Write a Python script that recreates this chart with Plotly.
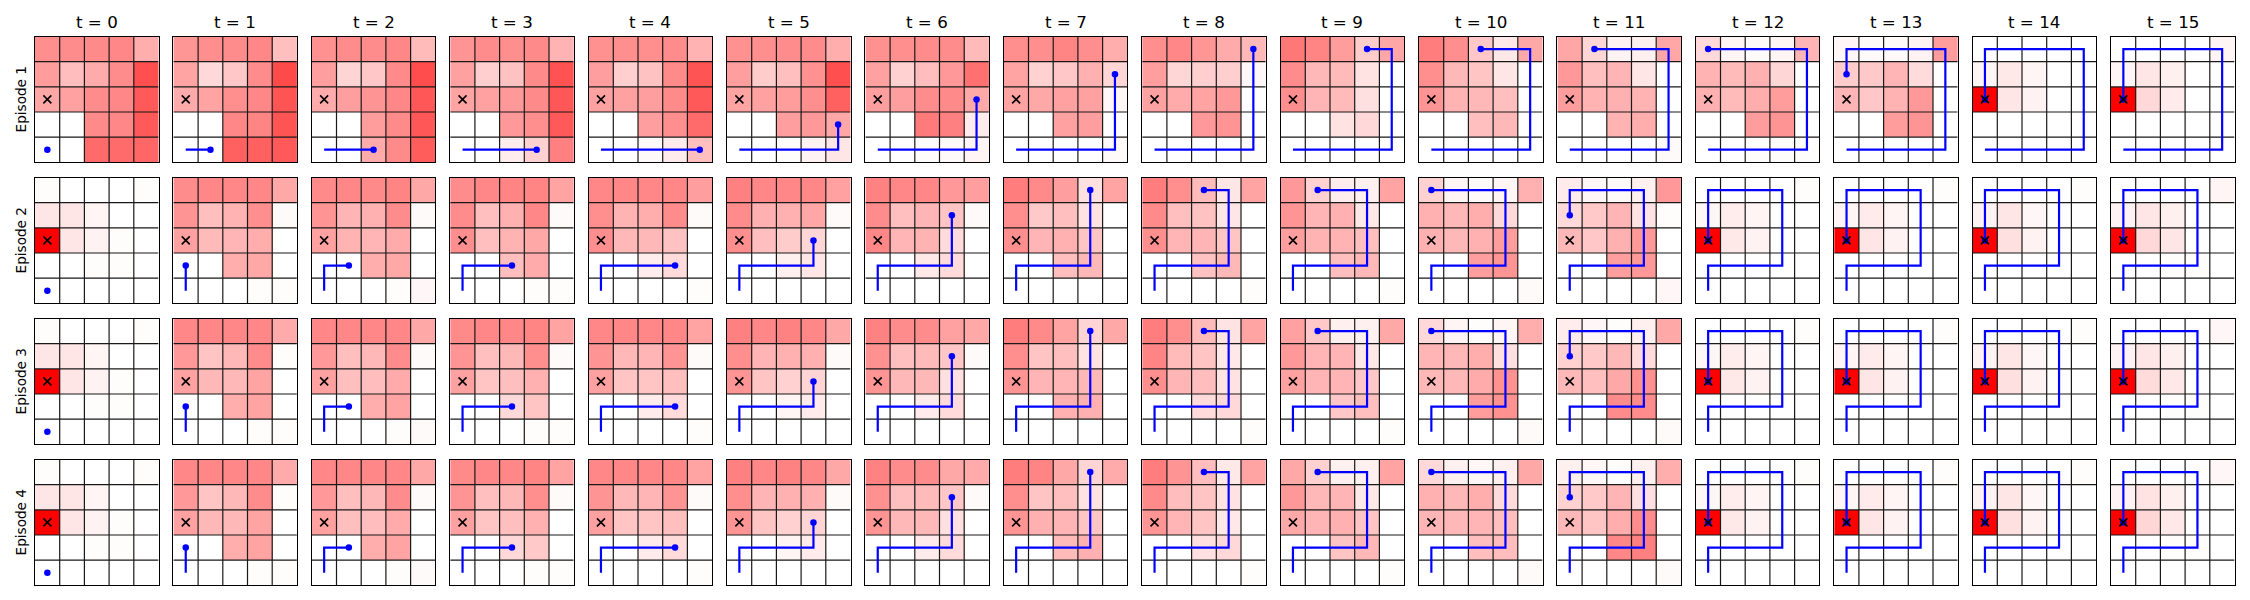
import plotly.graph_objects as go

# ---------------- data ----------------
time_labels = ["t = 0", "t = 1", "t = 2", "t = 3", "t = 4", "t = 5", "t = 6", "t = 7",
               "t = 8", "t = 9", "t = 10", "t = 11", "t = 12", "t = 13", "t = 14", "t = 15"]
episode_labels = ["Episode 1", "Episode 2", "Episode 3", "Episode 4"]

goal_col = 0
goal_row = 2

# agent positions (col, row) visited in each episode
ep1_path_cols = [0, 1, 2, 3, 4, 4, 4, 4, 4, 3, 2, 1, 0, 0, 0]
ep1_path_rows = [4, 4, 4, 4, 4, 3, 2, 1, 0, 0, 0, 0, 0, 1, 2]
ep2_path_cols = [0, 0, 1, 2, 3, 3, 3, 3, 2, 1, 0, 0, 0]
ep2_path_rows = [4, 3, 3, 3, 3, 2, 1, 0, 0, 0, 0, 1, 2]
ep3_path_cols = [0, 0, 1, 2, 3, 3, 3, 3, 2, 1, 0, 0, 0]
ep3_path_rows = [4, 3, 3, 3, 3, 2, 1, 0, 0, 0, 0, 1, 2]
ep4_path_cols = [0, 0, 1, 2, 3, 3, 3, 3, 2, 1, 0, 0, 0]
ep4_path_rows = [4, 3, 3, 3, 3, 2, 1, 0, 0, 0, 0, 1, 2]

# heat intensity per cell (percent), one 5x5 grid per time step
ep1_heat = [
    [[44, 45, 46, 47, 32], [39, 26, 33, 45, 69], [35, 37, 45, 47, 65], [0, 0, 46, 47, 65], [0, 0, 58, 58, 60]],
    [[41, 44, 45, 47, 25], [36, 15, 22, 45, 71], [33, 36, 44, 47, 67], [0, 0, 47, 48, 67], [0, 0, 62, 62, 65]],
    [[43, 45, 45, 47, 27], [38, 17, 22, 46, 70], [33, 38, 42, 47, 66], [0, 0, 39, 46, 66], [0, 0, 33, 46, 64]],
    [[42, 45, 44, 46, 30], [37, 19, 24, 46, 68], [36, 37, 40, 46, 66], [0, 0, 40, 44, 65], [0, 0, 7, 18, 50]],
    [[43, 44, 44, 45, 30], [38, 19, 24, 46, 67], [37, 37, 38, 46, 65], [0, 0, 38, 44, 58], [0, 0, 2, 8, 25]],
    [[43, 44, 45, 45, 32], [38, 20, 25, 43, 69], [36, 37, 39, 44, 62], [0, 0, 38, 40, 35], [0, 0, 1, 5, 10]],
    [[43, 44, 45, 45, 27], [37, 18, 26, 40, 56], [38, 38, 45, 46, 34], [0, 0, 52, 50, 8], [0, 0, 1, 2, 4]],
    [[44, 44, 48, 44, 32], [36, 18, 22, 31, 16], [36, 34, 37, 37, 3], [0, 0, 37, 38, 0], [0, 0, 0, 0, 2]],
    [[44, 47, 41, 33, 28], [38, 16, 19, 19, 3], [37, 33, 36, 40, 0], [0, 0, 40, 42, 0], [0, 0, 0, 0, 1]],
    [[53, 48, 39, 20, 35], [45, 28, 27, 11, 0], [44, 29, 27, 12, 0], [0, 0, 11, 15, 0], [0, 0, 0, 0, 0]],
    [[51, 44, 22, 9, 34], [44, 28, 23, 10, 0], [42, 30, 28, 25, 0], [0, 0, 25, 28, 0], [0, 0, 0, 0, 0]],
    [[35, 16, 5, 6, 35], [40, 25, 29, 10, 0], [39, 30, 31, 30, 0], [0, 0, 30, 32, 0], [0, 0, 0, 0, 2]],
    [[15, 4, 2, 4, 29], [30, 27, 31, 16, 0], [31, 27, 32, 39, 0], [0, 0, 39, 42, 0], [0, 0, 1, 1, 1]],
    [[3, 2, 2, 5, 39], [20, 21, 29, 14, 0], [29, 22, 30, 40, 0], [0, 0, 39, 42, 0], [0, 0, 0, 0, 0]],
    [[0, 0, 0, 0, 0], [4, 9, 4, 0, 0], [100, 10, 5, 0, 0], [0, 0, 0, 0, 0], [0, 0, 0, 0, 0]],
    [[0, 0, 0, 0, 4], [4, 10, 6, 0, 0], [100, 15, 8, 0, 0], [0, 0, 0, 0, 0], [0, 0, 0, 0, 0]],
]

ep2_heat = [
    [[1, 0, 0, 0, 1], [10, 10, 4, 0, 0], [100, 10, 5, 1, 0], [0, 0, 1, 1, 0], [0, 0, 0, 0, 0]],
    [[45, 47, 47, 47, 34], [42, 25, 30, 44, 2], [37, 27, 29, 32, 0], [0, 0, 32, 34, 0], [0, 0, 0, 1, 1]],
    [[46, 47, 46, 48, 34], [42, 29, 31, 45, 2], [37, 30, 29, 33, 0], [0, 0, 32, 34, 0], [0, 0, 0, 1, 3]],
    [[45, 47, 48, 48, 36], [45, 25, 31, 47, 2], [44, 25, 30, 34, 0], [0, 0, 25, 33, 0], [0, 0, 0, 1, 1]],
    [[47, 47, 47, 47, 38], [44, 30, 32, 45, 2], [44, 28, 28, 24, 0], [0, 0, 7, 14, 0], [0, 0, 0, 0, 1]],
    [[50, 47, 47, 47, 37], [45, 31, 31, 35, 2], [44, 25, 20, 16, 0], [0, 0, 6, 10, 0], [0, 0, 0, 0, 0]],
    [[49, 47, 47, 40, 38], [45, 25, 29, 23, 2], [47, 29, 30, 14, 0], [0, 0, 9, 14, 0], [0, 0, 0, 0, 0]],
    [[51, 46, 38, 12, 36], [44, 21, 25, 11, 0], [44, 29, 31, 23, 0], [0, 0, 25, 28, 0], [0, 0, 0, 0, 0]],
    [[51, 44, 27, 10, 36], [46, 25, 24, 10, 0], [44, 29, 29, 23, 0], [0, 0, 24, 28, 0], [0, 0, 0, 0, 1]],
    [[40, 18, 7, 6, 36], [42, 29, 31, 9, 0], [38, 30, 30, 25, 0], [0, 0, 25, 28, 0], [0, 0, 0, 0, 1]],
    [[18, 4, 2, 4, 31], [31, 28, 32, 15, 0], [31, 28, 31, 39, 0], [0, 0, 38, 42, 0], [0, 0, 0, 0, 2]],
    [[8, 3, 2, 6, 40], [15, 21, 29, 11, 1], [28, 22, 31, 40, 0], [0, 0, 38, 40, 0], [0, 0, 0, 0, 3]],
    [[0, 0, 0, 0, 1], [3, 7, 4, 0, 0], [100, 9, 5, 0, 0], [0, 0, 0, 0, 0], [0, 0, 0, 0, 0]],
    [[0, 0, 0, 0, 1], [4, 8, 4, 0, 0], [100, 10, 5, 0, 0], [0, 0, 0, 0, 0], [0, 0, 0, 0, 0]],
    [[0, 0, 0, 0, 1], [5, 10, 3, 0, 0], [100, 12, 5, 0, 0], [0, 0, 0, 0, 0], [0, 0, 0, 0, 0]],
    [[0, 0, 0, 0, 4], [5, 10, 6, 0, 0], [100, 15, 10, 0, 0], [0, 0, 1, 1, 0], [0, 0, 0, 0, 0]],
]

ep3_heat = [
    [[1, 0, 0, 0, 1], [10, 10, 4, 0, 0], [100, 10, 5, 1, 0], [0, 0, 1, 1, 0], [0, 0, 0, 0, 0]],
    [[47, 47, 47, 47, 33], [40, 23, 28, 45, 1], [37, 28, 28, 36, 0], [0, 0, 32, 36, 0], [0, 0, 0, 1, 1]],
    [[47, 47, 47, 47, 34], [40, 25, 28, 45, 2], [37, 25, 26, 33, 0], [0, 0, 32, 36, 0], [0, 0, 0, 1, 2]],
    [[46, 47, 47, 48, 36], [42, 25, 28, 44, 2], [37, 23, 25, 31, 0], [0, 0, 15, 23, 0], [0, 0, 0, 1, 1]],
    [[47, 47, 47, 47, 36], [42, 28, 29, 42, 2], [37, 23, 23, 25, 0], [0, 0, 8, 14, 0], [0, 0, 0, 0, 1]],
    [[50, 47, 49, 47, 34], [44, 29, 31, 31, 2], [42, 23, 18, 17, 0], [0, 0, 4, 8, 0], [0, 0, 0, 0, 0]],
    [[49, 45, 45, 37, 34], [43, 25, 27, 22, 2], [42, 28, 28, 12, 0], [0, 0, 8, 14, 0], [0, 0, 0, 0, 0]],
    [[51, 46, 36, 17, 34], [44, 23, 25, 11, 0], [42, 29, 29, 28, 0], [0, 0, 31, 31, 0], [0, 0, 0, 0, 0]],
    [[51, 44, 27, 11, 36], [48, 27, 23, 9, 0], [44, 29, 26, 11, 0], [0, 0, 14, 15, 0], [0, 0, 0, 0, 1]],
    [[37, 21, 6, 6, 34], [40, 29, 29, 9, 0], [37, 29, 29, 22, 0], [0, 0, 22, 25, 0], [0, 0, 0, 0, 1]],
    [[15, 4, 1, 4, 32], [29, 28, 32, 12, 0], [28, 28, 33, 43, 0], [0, 0, 39, 43, 0], [0, 0, 0, 0, 2]],
    [[7, 3, 1, 6, 34], [18, 21, 28, 14, 0], [28, 25, 34, 43, 0], [0, 0, 45, 45, 0], [0, 0, 0, 0, 2]],
    [[0, 0, 0, 0, 1], [3, 7, 4, 0, 0], [100, 9, 5, 0, 0], [0, 0, 0, 0, 0], [0, 0, 0, 0, 0]],
    [[0, 0, 0, 0, 1], [4, 8, 4, 0, 0], [100, 10, 5, 0, 0], [0, 0, 0, 0, 0], [0, 0, 0, 0, 0]],
    [[0, 0, 0, 0, 1], [5, 10, 3, 0, 0], [100, 12, 5, 0, 0], [0, 0, 0, 0, 0], [0, 0, 0, 0, 0]],
    [[0, 0, 0, 0, 3], [5, 10, 6, 0, 0], [100, 14, 9, 0, 0], [0, 0, 1, 1, 0], [0, 0, 0, 0, 0]],
]

ep4_heat = [
    [[1, 0, 0, 0, 1], [10, 10, 4, 0, 0], [100, 10, 5, 1, 0], [0, 0, 1, 1, 0], [0, 0, 0, 0, 0]],
    [[47, 47, 47, 47, 33], [40, 23, 28, 45, 1], [37, 28, 28, 36, 0], [0, 0, 32, 36, 0], [0, 0, 0, 1, 1]],
    [[47, 47, 47, 47, 34], [40, 25, 28, 45, 2], [37, 25, 26, 33, 0], [0, 0, 32, 36, 0], [0, 0, 0, 1, 2]],
    [[46, 47, 47, 48, 36], [42, 25, 28, 44, 2], [37, 23, 25, 31, 0], [0, 0, 15, 21, 0], [0, 0, 0, 1, 1]],
    [[47, 47, 47, 47, 36], [42, 28, 29, 42, 2], [37, 23, 23, 25, 0], [0, 0, 8, 14, 0], [0, 0, 0, 0, 1]],
    [[50, 47, 49, 47, 34], [44, 29, 31, 31, 2], [42, 23, 18, 17, 0], [0, 0, 4, 8, 0], [0, 0, 0, 0, 0]],
    [[49, 45, 45, 34, 33], [43, 25, 27, 22, 2], [42, 28, 28, 12, 0], [0, 0, 8, 14, 0], [0, 0, 0, 0, 0]],
    [[51, 48, 34, 17, 33], [44, 23, 25, 11, 0], [42, 31, 29, 23, 0], [0, 0, 27, 31, 0], [0, 0, 0, 0, 0]],
    [[51, 42, 26, 9, 36], [46, 26, 23, 11, 0], [42, 29, 23, 9, 0], [0, 0, 12, 15, 0], [0, 0, 0, 0, 1]],
    [[34, 18, 6, 6, 36], [40, 28, 29, 9, 0], [34, 29, 31, 23, 0], [0, 0, 23, 28, 0], [0, 0, 0, 0, 1]],
    [[15, 6, 3, 6, 34], [31, 28, 32, 14, 0], [29, 28, 29, 25, 0], [0, 0, 25, 26, 0], [0, 0, 0, 0, 2]],
    [[6, 3, 1, 6, 32], [18, 21, 29, 12, 0], [28, 23, 32, 45, 0], [0, 0, 47, 50, 0], [0, 0, 0, 0, 2]],
    [[0, 0, 0, 0, 1], [3, 7, 4, 0, 0], [100, 9, 5, 0, 0], [0, 0, 0, 0, 0], [0, 0, 0, 0, 0]],
    [[0, 0, 0, 0, 1], [4, 8, 4, 0, 0], [100, 10, 5, 0, 0], [0, 0, 0, 0, 0], [0, 0, 0, 0, 0]],
    [[0, 0, 0, 0, 1], [5, 10, 3, 0, 0], [100, 12, 5, 0, 0], [0, 0, 0, 0, 0], [0, 0, 0, 0, 0]],
    [[0, 0, 0, 0, 3], [5, 11, 6, 0, 0], [100, 16, 9, 0, 0], [0, 0, 1, 1, 0], [0, 0, 0, 0, 0]],
]

episodes = [
    (ep1_heat, ep1_path_cols, ep1_path_rows),
    (ep2_heat, ep2_path_cols, ep2_path_rows),
    (ep3_heat, ep3_path_cols, ep3_path_rows),
    (ep4_heat, ep4_path_cols, ep4_path_rows),
]

# ---------------- layout geometry (pixels, in page coordinates) ----------------
PAGE_OFF = 8          # default body margin of the html page
W, H = 2250 - PAGE_OFF, 600 - PAGE_OFF
N = 5
col_left0, col_step, panel_w = 35.0 - PAGE_OFF, 138.4, 123.5
row_top0, row_step, panel_h = 36.5 - PAGE_OFF, 141.0, 125.8
title_y = 21.7 - PAGE_OFF
ylabel_x = 21.0 - PAGE_OFF

FONT = "DejaVu Sans"

fig = go.Figure()
layout = dict(
    width=W, height=H,
    margin=dict(l=0, r=0, t=0, b=0),
    paper_bgcolor="white", plot_bgcolor="white",
    showlegend=False,
    annotations=[],
)

# grid line coordinates derived from the grid size
gx, gy = [], []
for i in range(1, N):
    gx += [i - 0.5, i - 0.5, None]
    gy += [-0.5, N - 0.5, None]
    gx += [-0.5, N - 0.5, None]
    gy += [i - 0.5, i - 0.5, None]

for r, (heat, pcols, prows) in enumerate(episodes):
    for c in range(len(time_labels)):
        k = r * len(time_labels) + c + 1
        xa = "x" if k == 1 else f"x{k}"
        ya = "y" if k == 1 else f"y{k}"
        xl = "xaxis" if k == 1 else f"xaxis{k}"
        yl = "yaxis" if k == 1 else f"yaxis{k}"
        left = col_left0 + c * col_step
        top = row_top0 + r * row_step
        layout[xl] = dict(domain=[left / W, (left + panel_w) / W], range=[-0.5, N - 0.5],
                          showticklabels=False, ticks="", showgrid=False, zeroline=False,
                          showline=True, mirror=True, linecolor="black", linewidth=1.3,
                          anchor=ya, fixedrange=True)
        layout[yl] = dict(domain=[1 - (top + panel_h) / H, 1 - top / H], range=[N - 0.5, -0.5],
                          showticklabels=False, ticks="", showgrid=False, zeroline=False,
                          showline=True, mirror=True, linecolor="black", linewidth=1.3,
                          anchor=xa, fixedrange=True)

        z = [[v / 100.0 for v in row] for row in heat[c]]
        fig.add_trace(go.Heatmap(z=z, xaxis=xa, yaxis=ya, zmin=0, zmax=1,
                                 colorscale=[[0, "rgb(255,255,255)"], [1, "rgb(255,0,0)"]],
                                 showscale=False, hoverinfo="skip"))
        fig.add_trace(go.Scatter(x=gx, y=gy, xaxis=xa, yaxis=ya, mode="lines",
                                 line=dict(color="rgb(25,25,25)", width=1.2),
                                 hoverinfo="skip", connectgaps=False))
        n = min(c, len(pcols) - 1) + 1
        px, py = pcols[:n], prows[:n]
        if n > 1:
            fig.add_trace(go.Scatter(x=px, y=py, xaxis=xa, yaxis=ya, mode="lines",
                                     line=dict(color="rgb(0,0,255)", width=2.2), hoverinfo="skip"))
        fig.add_trace(go.Scatter(x=[px[-1]], y=[py[-1]], xaxis=xa, yaxis=ya, mode="markers",
                                 marker=dict(color="rgb(0,0,255)", size=6.5), hoverinfo="skip"))
        fig.add_trace(go.Scatter(x=[goal_col], y=[goal_row], xaxis=xa, yaxis=ya, mode="markers",
                                 marker=dict(symbol="x-thin", size=8,
                                             line=dict(color="black", width=1.6)),
                                 hoverinfo="skip"))

        if r == 0:
            layout["annotations"].append(dict(
                text=time_labels[c], xref="paper", yref="paper",
                x=(left + panel_w / 2) / W, y=1 - title_y / H,
                xanchor="center", yanchor="middle", showarrow=False,
                font=dict(family=FONT, size=16.7, color="black")))
    layout["annotations"].append(dict(
        text=episode_labels[r], xref="paper", yref="paper",
        x=ylabel_x / W, y=1 - (row_top0 + r * row_step + panel_h / 2) / H,
        xanchor="center", yanchor="middle", textangle=-90, showarrow=False,
        font=dict(family=FONT, size=13.6, color="black")))

fig.update_layout(**layout)
fig.write_html("out.html")
